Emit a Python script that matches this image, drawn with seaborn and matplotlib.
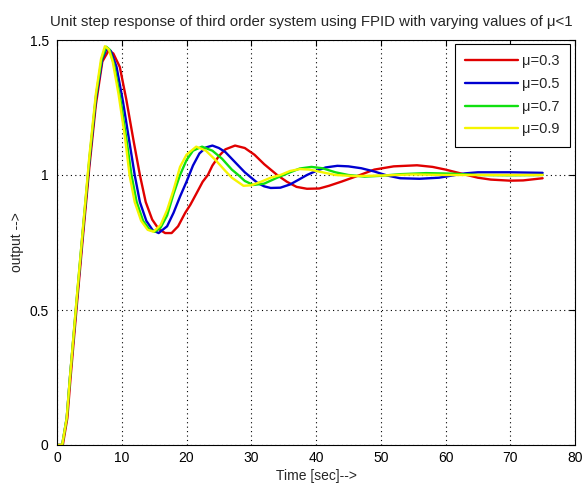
import matplotlib
matplotlib.use("Agg")
import matplotlib.pyplot as plt
import seaborn as sns
import pandas as pd

# Step responses (time in s, output) for each fractional order mu
t_03 = [0, 0.9, 1.6, 2.1, 3, 4, 5, 6, 7, 8, 8.7, 9.7, 10.7, 11.8, 12.8, 13.7, 14.7, 15.7,
        16.7, 17.7, 18.7, 19.8, 20.6, 21.5, 22.5, 23.3, 24, 25, 26, 27.5, 29, 30.5, 32, 34,
        35.5, 37, 38.6, 40.5, 42, 44, 46.8, 49, 52, 55.6, 58, 60, 62, 63.3, 65, 67, 70, 72, 75]
y_03 = [0, 0, 0.1, 0.25, 0.5, 0.77, 1.03, 1.26, 1.42, 1.462, 1.45, 1.40, 1.28, 1.13, 1.0,
        0.9, 0.835, 0.8, 0.785, 0.785, 0.81, 0.86, 0.89, 0.93, 0.975, 1.0, 1.035, 1.07, 1.095,
        1.109, 1.1, 1.075, 1.04, 1.0, 0.975, 0.956, 0.949, 0.95, 0.96, 0.976, 1.0, 1.02, 1.032,
        1.036, 1.03, 1.02, 1.008, 1.0, 0.99, 0.983, 0.979, 0.98, 0.988]

t_05 = [0, 0.8, 1.5, 2, 3, 4, 5, 6, 7, 7.7, 8.3, 9.2, 10.2, 11.2, 12.0, 12.8, 13.8, 14.8,
        15.7, 17, 18, 19, 20, 21, 22, 23, 24, 25, 26, 27, 28, 29, 30, 31, 32, 33, 34.5, 36,
        37.5, 38.6, 40, 41.5, 43.3, 45, 47, 49, 51, 53, 56, 59, 61, 63, 65, 70, 75]
y_05 = [0, 0, 0.1, 0.25, 0.52, 0.79, 1.05, 1.28, 1.43, 1.47, 1.46, 1.40, 1.27, 1.12, 1.0,
        0.9, 0.83, 0.795, 0.785, 0.81, 0.86, 0.92, 0.975, 1.035, 1.08, 1.102, 1.109, 1.10,
        1.085, 1.06, 1.035, 1.01, 0.99, 0.97, 0.958, 0.952, 0.953, 0.965, 0.985, 1.0, 1.015,
        1.028, 1.034, 1.032, 1.025, 1.013, 0.998, 0.988, 0.986, 0.99, 0.998, 1.006, 1.01,
        1.01, 1.008]

t_07 = [0, 0.8, 1.5, 2, 3, 4, 5, 6, 6.9, 7.6, 8.1, 8.8, 9.8, 10.8, 11.5, 12.3, 13.3, 14.3,
        15.1, 16, 17, 18, 19, 20, 21, 22.4, 24, 25.5, 27, 28, 29, 30.3, 32, 34, 36, 37.5,
        39.3, 41, 43, 45, 47.5, 50, 53, 57, 61, 65, 70, 75]
y_07 = [0, 0, 0.1, 0.25, 0.53, 0.8, 1.06, 1.29, 1.43, 1.475, 1.465, 1.41, 1.28, 1.12, 1.0,
        0.9, 0.83, 0.797, 0.79, 0.805, 0.85, 0.93, 1.0, 1.055, 1.09, 1.105, 1.09, 1.06, 1.02,
        1.0, 0.978, 0.963, 0.968, 0.99, 1.01, 1.024, 1.03, 1.025, 1.01, 1.0, 0.994, 0.997,
        1.003, 1.007, 1.005, 1.0, 0.999, 1.0]

t_09 = [0, 0.8, 1.5, 2, 3, 4, 5, 6, 6.8, 7.4, 8, 8.6, 9.5, 10.5, 11.2, 12, 13, 14, 14.9,
        16, 17, 18, 19, 20, 21.5, 23, 24.5, 26, 27, 28.8, 30, 31.5, 33, 34.5, 36, 37.5, 39,
        41, 43, 46, 50, 55, 60, 65, 70, 75]
y_09 = [0, 0, 0.1, 0.25, 0.53, 0.8, 1.07, 1.3, 1.43, 1.477, 1.465, 1.42, 1.30, 1.14, 1.0,
        0.9, 0.83, 0.797, 0.79, 0.815, 0.87, 0.945, 1.03, 1.075, 1.105, 1.09, 1.055, 1.015,
        0.99, 0.96, 0.962, 0.975, 0.99, 1.0, 1.015, 1.022, 1.02, 1.01, 1.0, 0.996, 0.998,
        1.002, 1.0, 1.0, 1.0, 1.0]

mu_labels = ["\u03bc=0.3", "\u03bc=0.5", "\u03bc=0.7", "\u03bc=0.9"]
line_colors = ["#e00000", "#0000d0", "#10e010", "#f5f500"]

x_ticks = [0, 10, 20, 30, 40, 50, 60, 70, 80]
y_ticks = [0, 0.5, 1, 1.5]
y_tick_labels = ["0", "0.5", "1", "1.5"]

frames = []
for lab, t, y in zip(mu_labels, [t_03, t_05, t_07, t_09], [y_03, y_05, y_07, y_09]):
    frames.append(pd.DataFrame({"time": t, "output": y, "mu": lab}))
df = pd.concat(frames, ignore_index=True)

sns.set_style("white")
plt.rcParams["font.family"] = ["Liberation Sans", "DejaVu Sans"]
plt.rcParams["font.size"] = 10

fig = plt.figure(figsize=(5.83, 4.88), dpi=100)
ax = fig.add_axes([57 / 583, 43 / 488, 518 / 583, 405 / 488])

sns.lineplot(data=df, x="time", y="output", hue="mu", hue_order=mu_labels,
             palette=dict(zip(mu_labels, line_colors)), estimator=None, sort=False,
             linewidth=1.7, legend=False, ax=ax)

ax.set_xlim(0, 80)
ax.set_ylim(0, 1.5)
ax.set_xticks(x_ticks)
ax.set_xticklabels([str(v) for v in x_ticks])
ax.set_yticks(y_ticks)
ax.set_yticklabels(y_tick_labels)
ax.grid(True, color="black", linestyle=(0, (1, 3)), linewidth=0.8)
ax.set_axisbelow(True)

for s in ax.spines.values():
    s.set_color("black")
    s.set_linewidth(0.8)
ax.tick_params(direction="in", length=4, width=0.8, color="black",
               top=True, right=True, labelsize=10, labelcolor="black")
ax.tick_params(axis="x", pad=4)
ax.tick_params(axis="y", pad=6)

ax.set_xlabel("Time [sec]-->", fontsize=10, labelpad=3)
ax.set_ylabel("output -->", fontsize=10, labelpad=4)
ax.set_title("Unit step response of third order system using FPID with varying values of \u03bc<1",
             fontsize=10.8, pad=10, x=0.49)

leg = ax.legend(handles=ax.get_lines()[:4], labels=mu_labels, loc="upper right",
                bbox_to_anchor=((570 - 57) / 518, (445 - 44) / 405), borderaxespad=0,
                fontsize=10.5, handlelength=3.6, handletextpad=0.3, labelspacing=0.6,
                borderpad=0.7, fancybox=False, framealpha=1, edgecolor="black")
leg.get_frame().set_linewidth(0.8)

fig.savefig("out.png", dpi=100)
